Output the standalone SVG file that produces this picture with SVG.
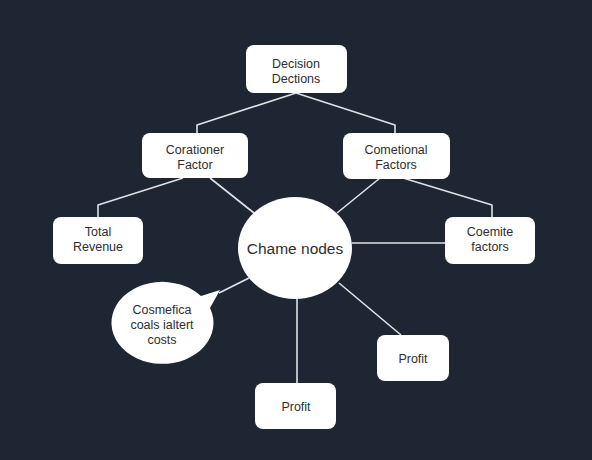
<svg xmlns="http://www.w3.org/2000/svg" width="592" height="460" viewBox="0 0 592 460">
<style>
.box{fill:#ffffff;}
.t{font-family:"Liberation Sans",Arial,sans-serif;font-size:12.5px;fill:#2e2e2e;text-anchor:middle;}
.big{font-size:15.5px;}
.c{fill:none;stroke:#dfe3e8;stroke-width:1.6;stroke-linejoin:round;}
</style>
<rect width="592" height="460" fill="#1e2633"/>
<g id="connectors">
<polyline class="c" points="296,93 197,125 197,133"/>
<polyline class="c" points="296,93 395,125 395,133"/>
<polyline class="c" points="183,178 98,205 98,217"/>
<line class="c" x1="210" y1="178" x2="254" y2="213"/>
<line class="c" x1="380" y1="178" x2="337" y2="213"/>
<polyline class="c" points="403,178 492,205 492,217"/>
<line class="c" x1="352" y1="243" x2="445" y2="243"/>
<line class="c" x1="249" y1="278" x2="219" y2="293"/>
<line class="c" x1="297" y1="298" x2="297" y2="383"/>
<line class="c" x1="339" y1="283" x2="401" y2="335"/>
</g>
<g id="decision">
<rect class="box" x="246" y="45" width="101" height="48" rx="8"/>
<text class="t" x="296" y="68">Decision</text>
<text class="t" x="296" y="82.5">Dections</text>
</g>
<g id="corationer">
<rect class="box" x="142" y="133" width="106" height="45" rx="8"/>
<text class="t" x="195" y="154">Corationer</text>
<text class="t" x="195" y="168.5">Factor</text>
</g>
<g id="cometional">
<rect class="box" x="343" y="133" width="107" height="46" rx="8"/>
<text class="t" x="396" y="154">Cometional</text>
<text class="t" x="396" y="168.5">Factors</text>
</g>
<g id="total-revenue">
<rect class="box" x="53" y="217" width="90" height="47" rx="8"/>
<text class="t" x="98" y="236">Total</text>
<text class="t" x="98" y="250.5">Revenue</text>
</g>
<g id="chame">
<ellipse class="box" cx="295" cy="248" rx="57" ry="51"/>
<text class="t big" x="295" y="254">Chame nodes</text>
</g>
<g id="coemite">
<rect class="box" x="445" y="217" width="90" height="47" rx="8"/>
<text class="t" x="490" y="236">Coemite</text>
<text class="t" x="490" y="250.5">factors</text>
</g>
<g id="costs-bubble">
<path class="box" d="M201,296 L220,290 L210,308 A51,41 0 1 1 201,296 Z"/>
<text class="t" x="162" y="314">Cosmefica</text>
<text class="t" x="162" y="329">coals ialtert</text>
<text class="t" x="162" y="344">costs</text>
</g>
<g id="profit-right">
<rect class="box" x="377" y="335" width="72" height="46" rx="8"/>
<text class="t" x="413" y="362.5">Profit</text>
</g>
<g id="profit-bottom">
<rect class="box" x="255" y="383" width="81" height="46" rx="8"/>
<text class="t" x="296" y="410.5">Profit</text>
</g>
</svg>
